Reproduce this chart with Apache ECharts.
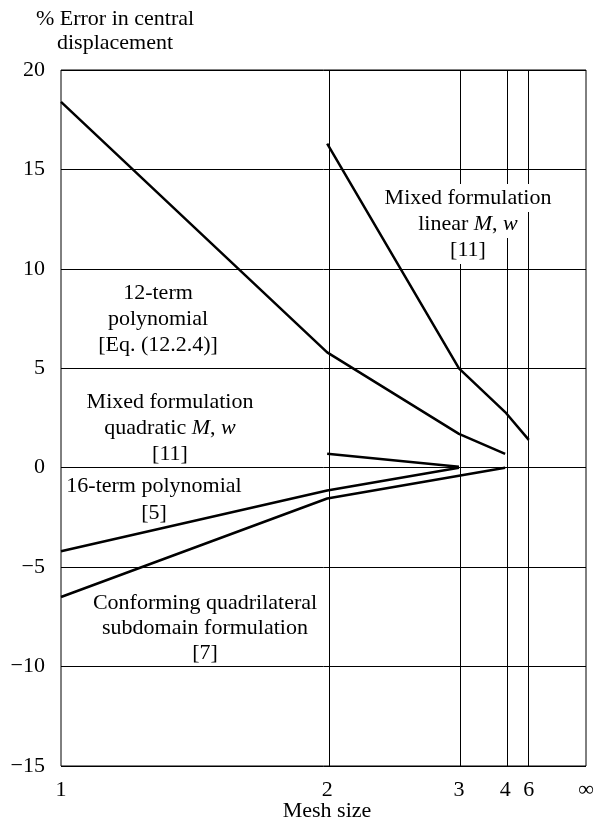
<!DOCTYPE html>
<html lang="en">
<head>
    <meta charset="UTF-8">
    <title>Error in central displacement</title>
    <script src="https://cdn.jsdelivr.net/npm/echarts@6/dist/echarts.min.js"></script>
    <style>
        html, body { margin: 0; padding: 0; background: #fff; }
    </style>
</head>
<body>
    <div id="main" style="width: 601px;height:837px;"></div>
    <script type="text/javascript">

        // mesh sizes and where they sit along the (non-linear) x scale, 0 = mesh 1, 1 = mesh ∞
        var meshLabels = ['1', '2', '3', '4', '6', '\u221e'];
        var meshPos = [0, 0.507, 0.758, 0.846, 0.891, 1];

        var yTicks = [-15, -10, -5, 0, 5, 10, 15, 20];

        // % error per mesh size (null = no point)
        var twelveTerm  = [18.4, 5.8, 1.7, 0.7, null, null];
        var mixedLinear = [null, 16.3, 5.0, 2.8, 1.4, null];
        var mixedQuad   = [null, 0.7, 0.05, null, null, null];
        var sixteenTerm = [-4.2, -1.15, 0.0, null, null, null];
        var conforming  = [-6.5, -1.55, -0.4, 0.0, null, null];

        var FONT = '"Liberation Serif", "DejaVu Serif", serif';
        var FS = 22;

        function toPoints(vals) {
            var pts = [];
            for (var i = 0; i < vals.length; i++) {
                if (vals[i] !== null) pts.push([meshPos[i], vals[i]]);
            }
            return pts;
        }

        function lineSeries(name, vals) {
            return {
                name: name,
                type: 'line',
                data: toPoints(vals),
                symbol: 'none',
                silent: true,
                lineStyle: { color: '#000', width: 2.5 },
                z: 3
            };
        }

        function meshLabel(v) {
            for (var i = 0; i < meshPos.length; i++) {
                if (Math.abs(meshPos[i] - v) < 1e-6) return meshLabels[i];
            }
            return '';
        }

        // vertical grid lines at the inner mesh sizes
        var vLines = [];
        for (var i = 1; i < meshPos.length - 1; i++) vLines.push({ xAxis: meshPos[i] });

        var txt = { fontFamily: FONT, fontSize: FS, fill: '#000' };
        var richAI = {
            a: { fontFamily: FONT, fontSize: FS, fill: '#000', lineHeight: 26 },
            i: { fontFamily: FONT, fontSize: FS, fontStyle: 'italic', fill: '#000', lineHeight: 26 }
        };

        var myChart = echarts.init(document.getElementById('main'));
        var option = {
            backgroundColor: '#fff',
            animation: false,
            grid: {
                left: 61, right: 15, top: 70, bottom: 71,
                show: true, borderColor: '#000', borderWidth: 1
            },
            xAxis: {
                type: 'value',
                min: 0, max: 1,
                axisLine: { show: false },
                axisTick: { show: false },
                splitLine: { show: false },
                axisLabel: {
                    customValues: meshPos,
                    formatter: meshLabel,
                    fontFamily: FONT, fontSize: FS, color: '#000',
                    margin: 13
                }
            },
            yAxis: {
                type: 'value',
                min: -15, max: 20, interval: 5,
                axisLine: { show: false },
                axisTick: { show: false },
                splitLine: { show: true, lineStyle: { color: '#000', width: 1 } },
                axisLabel: {
                    formatter: function (v) { return v < 0 ? '\u2212' + Math.abs(v) : String(v); },
                    fontFamily: FONT, fontSize: FS, color: '#000',
                    margin: 16
                }
            },
            series: [
                {
                    type: 'line', data: [], silent: true,
                    markLine: {
                        silent: true, symbol: 'none', label: { show: false },
                        lineStyle: { color: '#000', width: 1, type: 'solid' },
                        data: vLines
                    }
                },
                lineSeries('12-term polynomial', twelveTerm),
                lineSeries('Mixed formulation linear', mixedLinear),
                lineSeries('Mixed formulation quadratic', mixedQuad),
                lineSeries('16-term polynomial', sixteenTerm),
                lineSeries('Conforming quadrilateral', conforming)
            ],
            graphic: [
                { type: 'text', x: 115, y: 19, style: Object.assign({ text: '% Error in central', align: 'center', verticalAlign: 'middle' }, txt) },
                { type: 'text', x: 115, y: 43, style: Object.assign({ text: 'displacement', align: 'center', verticalAlign: 'middle' }, txt) },
                { type: 'text', x: 327, y: 811, style: Object.assign({ text: 'Mesh size', align: 'center', verticalAlign: 'middle' }, txt) },
                // white knock-out behind the label so the grid lines break around it
                {
                    type: 'text', x: 468, y: 224, z: 99,
                    style: {
                        text: '{b|Mixed formulation}\n{b|linear M, w}\n{b|[11]}',
                        align: 'center', verticalAlign: 'middle',
                        rich: {
                            b: { fontFamily: FONT, fontSize: FS, fill: 'rgba(0,0,0,0)', backgroundColor: '#fff', lineHeight: 26, padding: [3, 3] }
                        }
                    }
                },
                {
                    type: 'text', x: 468, y: 224, z: 100,
                    style: {
                        text: '{a|Mixed formulation}\n{a|linear }{i|M}{a|, }{i|w}\n{a|[11]}',
                        align: 'center', verticalAlign: 'middle',
                        rich: richAI
                    }
                },
                {
                    type: 'text', x: 158, y: 319,
                    style: Object.assign({ text: '12-term\npolynomial\n[Eq. (12.2.4)]', align: 'center', verticalAlign: 'middle', lineHeight: 26 }, txt)
                },
                {
                    type: 'text', x: 170, y: 428,
                    style: {
                        text: '{a|Mixed formulation}\n{a|quadratic }{i|M}{a|, }{i|w}\n{a|[11]}',
                        align: 'center', verticalAlign: 'middle',
                        rich: richAI
                    }
                },
                {
                    type: 'text', x: 154, y: 500,
                    style: Object.assign({ text: '16-term polynomial\n[5]', align: 'center', verticalAlign: 'middle', lineHeight: 27 }, txt)
                },
                {
                    type: 'text', x: 205, y: 628,
                    style: Object.assign({ text: 'Conforming quadrilateral\nsubdomain formulation\n[7]', align: 'center', verticalAlign: 'middle', lineHeight: 25 }, txt)
                }
            ]
        };
        myChart.setOption(option);

    </script>
</body>
</html>
